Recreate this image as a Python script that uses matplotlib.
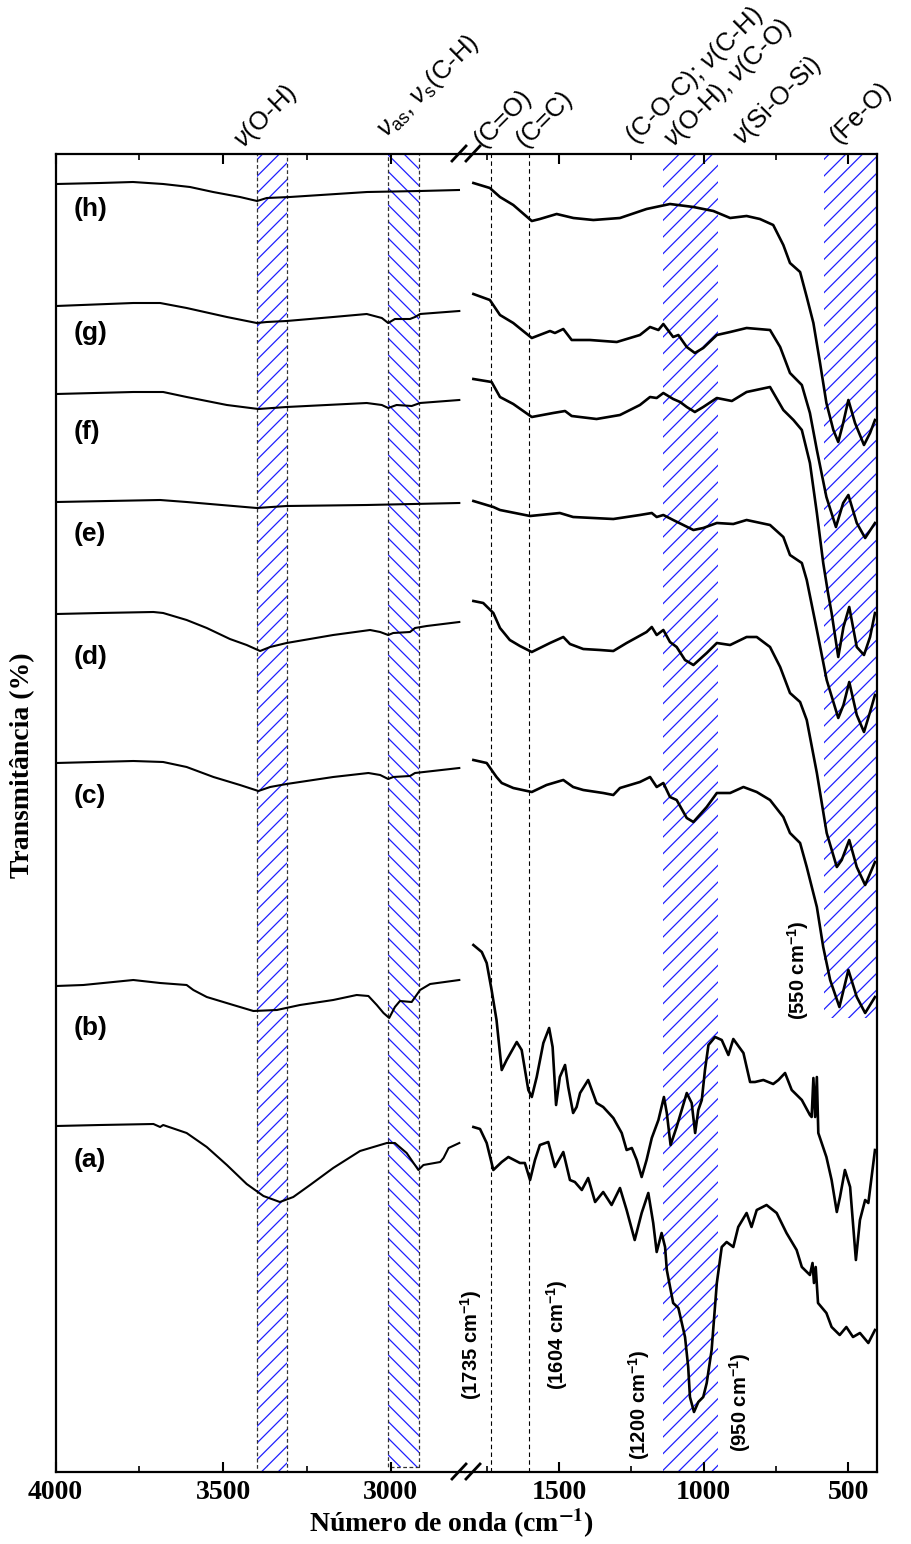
import matplotlib
matplotlib.use("Agg")
import matplotlib.pyplot as plt
from matplotlib.patches import Rectangle
from matplotlib.lines import Line2D
from matplotlib.ticker import FixedLocator

plt.rcParams['font.family'] = 'Liberation Serif'
plt.rcParams['font.weight'] = 'bold'
plt.rcParams['mathtext.fontset'] = 'custom'
plt.rcParams['mathtext.rm'] = 'Liberation Sans:weight=normal'
plt.rcParams['mathtext.it'] = 'Liberation Sans:style=italic:weight=normal'
plt.rcParams['mathtext.bf'] = 'Liberation Sans:weight=bold'
plt.rcParams['hatch.linewidth'] = 0.9

# ---------------- spectra (offset transmittance, a.u.) ----------------
# high-wavenumber segment (4000-2800 cm-1)
wn_hi_h = [3998, 3867, 3769, 3679, 3599, 3530, 3450, 3399, 3370, 3301, 3071, 2913, 2797]
tr_hi_h = [128.8, 128.9, 129.0, 128.8, 128.5, 128.0, 127.5, 127.1, 127.4, 127.5, 128.0, 128.1, 128.2]

wn_hi_g = [3998, 3768, 3688, 3609, 3489, 3400, 3370, 3311, 3172, 3072, 3027, 3008, 2988, 2943, 2928, 2913, 2796]
tr_hi_g = [116.6, 116.9, 116.9, 116.4, 115.5, 114.9, 115.0, 115.1, 115.5, 115.8, 115.4, 114.9, 115.3, 115.3, 115.5, 115.8, 116.1]

wn_hi_f = [3998, 3768, 3679, 3609, 3489, 3395, 3311, 3072, 3027, 3008, 2983, 2938, 2913, 2796]
tr_hi_f = [107.8, 108.0, 108.0, 107.5, 106.7, 106.3, 106.5, 106.9, 106.7, 106.4, 106.7, 106.6, 106.9, 107.2]

wn_hi_e = [3998, 3688, 3609, 3400, 3311, 3072, 2796]
tr_hi_e = [97.0, 97.2, 97.0, 96.4, 96.6, 96.7, 96.9]

wn_hi_d = [3998, 3867, 3708, 3679, 3609, 3549, 3480, 3430, 3390, 3360, 3311, 3172, 3062, 3032, 3008, 2993, 2943, 2928, 2893, 2796]
tr_hi_d = [85.8, 85.9, 86.0, 85.9, 85.2, 84.4, 83.3, 82.7, 82.1, 82.5, 82.9, 83.7, 84.2, 84.0, 83.7, 83.9, 84.0, 84.4, 84.6, 85.0]

wn_hi_c = [3998, 3768, 3679, 3609, 3529, 3450, 3395, 3360, 3311, 3172, 3067, 3032, 3008, 2993, 2943, 2928, 2796]
tr_hi_c = [70.9, 71.1, 71.0, 70.5, 69.5, 68.7, 68.1, 68.5, 68.8, 69.5, 69.9, 69.7, 69.3, 69.5, 69.6, 69.9, 70.4]

wn_hi_b = [3998, 3917, 3768, 3688, 3609, 3589, 3549, 3470, 3410, 3340, 3271, 3172, 3102, 3067, 3042, 3022, 3005, 2988, 2973, 2938, 2913, 2883, 2796]
tr_hi_b = [48.6, 48.7, 49.2, 48.9, 48.7, 48.2, 47.5, 46.7, 46.1, 46.2, 46.7, 47.2, 47.7, 47.6, 46.7, 45.9, 45.4, 46.5, 47.1, 47.0, 48.2, 48.8, 49.2]

wn_hi_a = [3998, 3867, 3708, 3688, 3679, 3609, 3549, 3489, 3430, 3380, 3331, 3291, 3241, 3172, 3092, 3012, 2988, 2953, 2918, 2903, 2853, 2843, 2828, 2796]
tr_hi_a = [34.6, 34.7, 34.8, 34.5, 34.7, 33.9, 32.5, 30.7, 28.8, 27.6, 27.0, 27.5, 28.7, 30.4, 32.1, 32.9, 32.9, 31.9, 30.2, 30.7, 31.0, 31.4, 32.4, 32.9]

# low-wavenumber segment (1800-400 cm-1)
wn_lo_h = [1796, 1739, 1704, 1658, 1594, 1566, 1508, 1450, 1381, 1289, 1197, 1116, 1035, 966, 908, 851, 805, 759, 724, 701,
           666, 643, 620, 597, 575, 551, 534, 517, 499, 476, 445, 424, 407]
tr_lo_h = [128.9, 128.4, 127.5, 126.7, 125.1, 125.3, 125.8, 125.4, 125.2, 125.4, 126.3, 126.8, 126.5, 126.1, 125.4, 125.6, 125.3,
           124.7, 122.7, 120.9, 120.0, 117.5, 114.9, 110.9, 106.9, 104.2, 103.0, 104.9, 107.2, 104.9, 102.7, 103.9, 105.2]

wn_lo_g = [1796, 1739, 1704, 1658, 1594, 1531, 1514, 1485, 1456, 1393, 1300, 1220, 1185, 1156, 1139, 1105, 1087, 1058, 1030,
           1001, 954, 908, 851, 770, 735, 701, 660, 632, 608, 575, 542, 517, 499, 470, 441, 407]
tr_lo_g = [117.8, 117.2, 115.7, 114.9, 113.4, 114.1, 113.9, 114.3, 113.2, 113.2, 113.0, 113.7, 114.5, 114.2, 114.8, 113.5, 113.7,
           112.5, 111.9, 112.4, 113.7, 114.0, 114.4, 114.2, 112.5, 109.9, 108.7, 105.9, 102.2, 97.5, 94.5, 96.9, 97.7, 94.9, 93.4, 94.9]

wn_lo_f = [1796, 1733, 1704, 1658, 1594, 1520, 1479, 1456, 1370, 1289, 1220, 1185, 1162, 1139, 1105, 1081, 1058, 1030, 1001,
           954, 902, 851, 770, 724, 689, 660, 632, 608, 586, 570, 557, 534, 516, 496, 470, 445, 424, 407]
tr_lo_f = [109.3, 109.0, 107.5, 106.8, 105.5, 105.9, 106.1, 105.6, 105.3, 105.7, 106.7, 107.5, 107.4, 107.9, 107.3, 107.0, 106.5,
           106.0, 106.5, 107.4, 107.1, 108.0, 108.5, 106.2, 105.2, 104.2, 100.9, 95.9, 90.9, 88.0, 85.9, 81.5, 84.5, 86.5, 82.5,
           81.7, 83.5, 85.9]

wn_lo_e = [1796, 1727, 1704, 1600, 1497, 1451, 1312, 1220, 1179, 1162, 1139, 1105, 1070, 1035, 1001, 954, 897, 851, 770, 724,
           701, 660, 643, 608, 574, 534, 516, 496, 470, 445, 424, 407]
tr_lo_e = [97.1, 96.5, 96.2, 95.6, 95.9, 95.5, 95.3, 95.7, 95.9, 95.5, 95.7, 95.2, 94.7, 94.2, 94.4, 94.9, 94.8, 95.2, 94.7,
           93.5, 91.7, 90.9, 89.2, 84.2, 79.2, 75.4, 76.7, 79.0, 75.7, 74.0, 76.0, 77.7]

wn_lo_d = [1796, 1762, 1727, 1704, 1670, 1635, 1594, 1531, 1485, 1462, 1416, 1358, 1312, 1266, 1197, 1179, 1162, 1139, 1116,
           1093, 1064, 1035, 989, 954, 908, 851, 816, 770, 735, 701, 666, 643, 608, 574, 539, 522, 496, 470, 441, 407]
tr_lo_d = [87.1, 86.9, 85.9, 84.4, 83.2, 82.6, 82.0, 82.9, 83.5, 82.8, 82.3, 82.2, 82.1, 82.9, 84.0, 84.5, 83.7, 84.2, 83.0,
           82.5, 81.2, 80.7, 81.9, 82.9, 82.7, 83.5, 83.5, 82.5, 80.5, 77.9, 77.0, 75.2, 69.9, 63.9, 60.5, 61.2, 63.2, 60.5, 58.7, 61.0]

wn_lo_c = [1796, 1750, 1716, 1698, 1658, 1594, 1543, 1485, 1451, 1416, 1347, 1312, 1289, 1220, 1185, 1162, 1139, 1116, 1093,
           1058, 1035, 989, 954, 908, 862, 816, 770, 724, 701, 666, 643, 608, 586, 562, 530, 499, 470, 441, 407]
tr_lo_c = [71.2, 70.9, 69.5, 68.9, 68.4, 68.0, 68.7, 69.2, 68.5, 68.2, 67.9, 67.7, 68.4, 69.0, 69.5, 68.5, 68.9, 67.5, 67.2,
           65.4, 65.0, 66.5, 67.9, 67.9, 68.5, 68.0, 67.2, 65.5, 63.9, 62.9, 60.5, 56.5, 52.5, 49.2, 46.5, 50.2, 47.5, 45.9, 47.5]

wn_lo_b = [1796, 1767, 1750, 1733, 1716, 1698, 1681, 1646, 1629, 1606, 1594, 1577, 1554, 1534, 1522, 1510, 1497, 1479, 1468,
           1451, 1439, 1427, 1399, 1370, 1347, 1312, 1283, 1266, 1248, 1231, 1214, 1197, 1179, 1156, 1137, 1127, 1114, 1093,
           1058, 1041, 1029, 1018, 1006, 995, 983, 960, 937, 914, 897, 862, 839, 822, 793, 759, 741, 718, 695, 660, 632, 626,
           620, 614, 608, 603, 575, 557, 539, 528, 511, 493, 473, 459, 441, 430, 407]
tr_lo_b = [52.7, 52.0, 50.9, 48.2, 45.2, 40.2, 41.2, 43.0, 42.2, 38.2, 37.5, 39.5, 42.9, 44.4, 42.5, 36.7, 39.5, 40.7, 38.5,
           35.9, 36.5, 37.9, 39.2, 36.9, 36.5, 35.4, 33.9, 32.2, 32.4, 31.2, 29.5, 31.2, 33.4, 35.2, 37.5, 35.9, 32.7, 34.5,
           37.9, 36.9, 33.9, 36.2, 37.2, 40.2, 42.7, 43.5, 43.2, 41.7, 43.3, 41.9, 39.0, 39.0, 39.2, 38.8, 39.2, 39.9, 38.2,
           37.2, 35.7, 35.5, 39.4, 35.5, 39.5, 33.9, 31.5, 29.2, 26.0, 27.5, 30.2, 28.5, 21.2, 25.2, 27.2, 26.9, 32.2]

wn_lo_a = [1796, 1773, 1750, 1727, 1698, 1675, 1635, 1618, 1600, 1583, 1566, 1537, 1514, 1485, 1462, 1445, 1421, 1399, 1375,
           1347, 1318, 1289, 1266, 1238, 1214, 1191, 1174, 1162, 1145, 1133, 1127, 1105, 1087, 1064, 1053, 1047, 1033, 1018,
           1001, 989, 972, 954, 937, 920, 897, 880, 851, 834, 816, 782, 747, 713, 678, 660, 632, 623, 618, 612, 604, 575, 557,
           529, 506, 483, 459, 430, 407]
tr_lo_a = [34.5, 34.3, 32.9, 30.2, 31.0, 31.5, 30.9, 30.9, 29.2, 31.2, 32.7, 33.0, 30.5, 32.0, 29.2, 29.0, 28.2, 29.4, 27.0,
           28.0, 26.7, 28.4, 26.2, 23.2, 25.9, 27.9, 24.9, 22.0, 23.9, 22.5, 20.2, 16.9, 16.4, 13.5, 10.5, 7.5, 6.0, 7.0, 7.5,
           8.9, 12.2, 18.9, 22.5, 23.0, 22.5, 24.5, 25.9, 24.5, 26.2, 26.7, 25.9, 23.9, 22.2, 20.5, 19.7, 20.9, 18.9, 20.5,
           16.9, 15.9, 14.5, 13.7, 14.5, 13.5, 13.9, 12.9, 14.2]

hi_segments = [(wn_hi_a, tr_hi_a), (wn_hi_b, tr_hi_b), (wn_hi_c, tr_hi_c), (wn_hi_d, tr_hi_d),
               (wn_hi_e, tr_hi_e), (wn_hi_f, tr_hi_f), (wn_hi_g, tr_hi_g), (wn_hi_h, tr_hi_h)]
lo_segments = [(wn_lo_a, tr_lo_a), (wn_lo_b, tr_lo_b), (wn_lo_c, tr_lo_c), (wn_lo_d, tr_lo_d),
               (wn_lo_e, tr_lo_e), (wn_lo_f, tr_lo_f), (wn_lo_g, tr_lo_g), (wn_lo_h, tr_lo_h)]

sample_labels = ['(a)', '(b)', '(c)', '(d)', '(e)', '(f)', '(g)', '(h)']
sample_label_y = [31.2, 44.4, 67.6, 81.5, 93.8, 104.0, 113.9, 126.3]

# hatched band limits (cm-1)
band_oh = (3400, 3310)
band_ch = (3010, 2915)
band_coc = (1140, 950)
band_feo = (585, 400)
feo_band_floor = 45.4

ref_lines = [1735, 1604]

# ---------------- figure ----------------
W, H = 911, 1544
fig = plt.figure(figsize=(W / 100, H / 100), dpi=100)
y_bot, y_top = 1472, 154
axL = fig.add_axes([55.5 / W, (H - y_bot) / H, (465 - 55.5) / W, (y_bot - y_top) / H])
axR = fig.add_axes([465 / W, (H - y_bot) / H, (877 - 465) / W, (y_bot - y_top) / H])

YMAX = 131.8
axL.set_xlim(4000, 2779)
axR.set_xlim(1825, 400)
for ax in (axL, axR):
    ax.set_ylim(0, YMAX)
    ax.set_yticks([])
    for s in ax.spines.values():
        s.set_linewidth(1.6)
    ax.tick_params(axis='x', which='both', direction='in', top=True, bottom=True,
                   labelsize=20, pad=6)
    ax.tick_params(axis='x', which='major', length=7, width=1.5)
    ax.tick_params(axis='x', which='minor', length=4, width=1.2)
axL.spines['right'].set_visible(False)
axR.spines['left'].set_visible(False)
axL.xaxis.set_major_locator(FixedLocator([4000, 3500, 3000]))
axL.xaxis.set_minor_locator(FixedLocator([3750, 3250]))
axR.xaxis.set_major_locator(FixedLocator([1500, 1000, 500]))
axR.xaxis.set_minor_locator(FixedLocator([1750, 1250, 750]))

hatch_blue = '#1f1fff'


def hatched_band(ax, x0, x1, y0, y1, pattern, dashed_edge):
    ax.add_patch(Rectangle((x1, y0), x0 - x1, y1 - y0, facecolor='none', edgecolor=hatch_blue,
                           hatch=pattern, linewidth=0, zorder=1))
    if dashed_edge:
        ax.add_patch(Rectangle((x1, y0), x0 - x1, y1 - y0, fill=False, edgecolor='#333333',
                               linewidth=0.9, linestyle=(0, (3, 2)), zorder=1.5))


hatched_band(axL, *band_oh, -1, YMAX + 2, '//', True)
hatched_band(axL, *band_ch, 0.5, YMAX + 2, '\\\\', True)
hatched_band(axR, *band_coc, -1, YMAX + 2, '//', False)
hatched_band(axR, *band_feo, feo_band_floor, YMAX + 2, '//', False)

for xv in ref_lines:
    axR.axvline(xv, color='k', lw=0.8, ls=(0, (4, 3)), zorder=1.5)

for wn, tr in hi_segments:
    axL.plot(wn, tr, color='k', lw=1.5, zorder=3, solid_joinstyle='round')
for wn, tr in lo_segments:
    axR.plot(wn, tr, color='k', lw=1.9, zorder=3, solid_joinstyle='round')

for lab, yv in zip(sample_labels, sample_label_y):
    axL.text(3945, yv, lab, ha='left', va='center', fontsize=19, fontweight='bold',
             family='Liberation Sans')

# band assignments above the frame
top_kw = dict(rotation=45, rotation_mode='anchor', ha='left', va='baseline', fontsize=18.5,
              fontweight='normal', family='Liberation Sans', clip_on=False)
axL.text(3440, 132.3, r'$\nu$(O-H)', **top_kw)
axL.text(3015, 133.4, r'$\nu_{\mathrm{as}}$, $\nu_{\mathrm{s}}$(C-H)', **top_kw)
axR.text(1762, 132.4, '(C=O)', **top_kw)
axR.text(1618, 132.4, '(C=C)', **top_kw)
axR.text(1236, 132.7, r'(C-O-C); $\nu$(C-H)', **top_kw)
axR.text(1106, 132.4, r'$\nu$(O-H), $\nu$(C-O)', **top_kw)
axR.text(866, 132.6, r'$\nu$(Si-O-Si)', **top_kw)
axR.text(532, 132.8, '(Fe-O)', **top_kw)

# vertical wavenumber markers
vkw = dict(rotation=90, ha='center', va='center', fontsize=14.5, fontweight='bold',
           family='Liberation Sans')
axR.text(1804, 12.7, r'(1735 cm$^{\mathbf{-1}}$)', **vkw)
axR.text(1507, 13.7, r'(1604 cm$^{\mathbf{-1}}$)', **vkw)
axR.text(1223, 6.7, r'(1200 cm$^{\mathbf{-1}}$)', **vkw)
axR.text(874, 7.0, r'(950 cm$^{\mathbf{-1}}$)', **vkw)
axR.text(673, 50.2, r'(550 cm$^{\mathbf{-1}}$)', **vkw)

# axis break marks
for ypix in (y_bot, y_top):
    for x0 in (452, 466):
        fig.add_artist(Line2D([x0 / W, (x0 + 14) / W], [(H - ypix - 7) / H, (H - ypix + 8) / H],
                              transform=fig.transFigure, color='k', lw=2.0))

fig.text(452 / W, 1 - 1523 / H, r'Número de onda (cm$^{\mathbf{-1}}$)', ha='center', va='center',
         fontsize=20, fontweight='bold', family='Liberation Serif', math_fontfamily='stix')
fig.text(23 / W, 1 - 765 / H, 'Transmitância (%)', rotation=90, ha='center', va='center',
         fontsize=20, fontweight='bold', family='Liberation Serif')

fig.savefig('out.png', dpi=100)
